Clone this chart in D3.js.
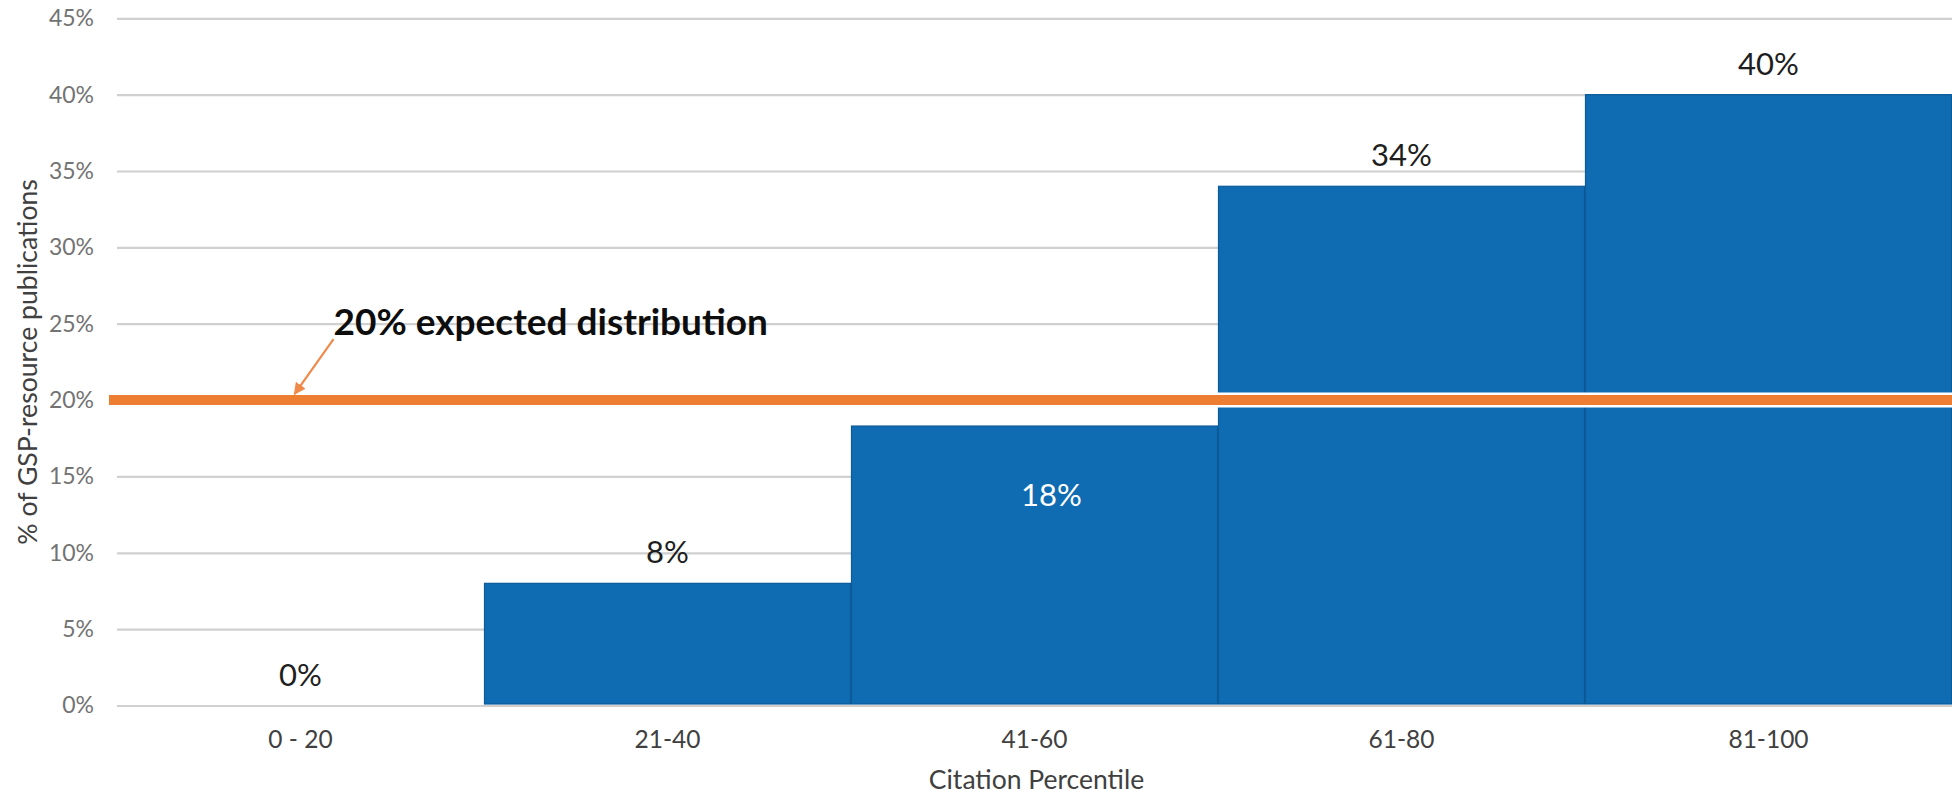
<!DOCTYPE html>
<html>
<head>
<meta charset="utf-8">
<script src="https://cdn.jsdelivr.net/npm/d3@7"></script>
<style>
  html, body { margin: 0; padding: 0; background: #fff; }
  svg { display: block; }
  text { font-family: Lato, "Open Sans", sans-serif; }
</style>
</head>
<body>
<svg id="chart" width="1952" height="796"></svg>
<script>
// ---- data ----
const categories = ["0 - 20", "21-40", "41-60", "61-80", "81-100"];
const shares = [0, 0.08, 0.183, 0.34, 0.40];
const yTicks = [0, 0.05, 0.10, 0.15, 0.20, 0.25, 0.30, 0.35, 0.40, 0.45];
const expectedShare = [0.20];
const annotationText = ["20% expected distribution"];
const xTitle = "Citation Percentile";
const yTitle = "% of GSP-resource publications";

(function () {
// ---- layout ----
const mLeft = 117, mRight = 1952, mTop = 18.3, mBottom = 705.5;
const svg = d3.select("#chart");

const x = d3.scaleBand().domain(categories).range([mLeft, mRight]).paddingInner(0).paddingOuter(0);
const y = d3.scaleLinear().domain([0, 0.45]).range([mBottom, mTop]);
const pct = d3.format(".0%");

// gridlines
const grid = svg.append("g")
  .attr("transform", `translate(${mLeft},0)`)
  .call(d3.axisLeft(y).tickValues(yTicks).tickSize(-(mRight - mLeft)).tickFormat(""));
grid.select(".domain").remove();
grid.selectAll(".tick line").attr("stroke", "#d0d0d0").attr("stroke-width", 2.2);

// y tick labels
const yAxis = svg.append("g")
  .attr("transform", `translate(${mLeft - 23},0)`)
  .call(d3.axisLeft(y).tickValues(yTicks).tickSize(0).tickPadding(0).tickFormat(pct));
yAxis.select(".domain").remove();
yAxis.selectAll(".tick text")
  .attr("font-family", "Lato, sans-serif")
  .attr("font-size", 23).attr("fill", "#737373");

// bars
svg.append("g").selectAll("rect")
  .data(categories.map((c, i) => ({ c, v: shares[i] })))
  .join("rect")
  .attr("x", d => x(d.c) + 0.5)
  .attr("width", x.bandwidth() - 1)
  .attr("y", d => y(d.v))
  .attr("height", d => Math.max(0, y(0) - 1.5 - y(d.v)))
  .attr("fill", d => d.v > 0 ? "#0f6bb2" : "none")
  .attr("stroke", d => d.v > 0 ? "#0b5b98" : "none")
  .attr("stroke-width", 1.2);

// x tick labels
const xAxis = svg.append("g")
  .attr("transform", `translate(0,${mBottom})`)
  .call(d3.axisBottom(x).tickSize(0).tickPadding(0));
xAxis.select(".domain").remove();
xAxis.selectAll(".tick text")
  .attr("font-family", "Lato, sans-serif")
  .attr("font-size", 24.5).attr("fill", "#404040")
  .attr("dy", null).attr("y", 42);

// expected distribution line
const refY = y(expectedShare[0]);
svg.append("line")
  .attr("x1", mLeft - 8).attr("x2", mRight)
  .attr("y1", refY).attr("y2", refY)
  .attr("stroke", "#ffffff").attr("stroke-width", 15);
svg.append("line")
  .attr("x1", mLeft - 8).attr("x2", mRight)
  .attr("y1", refY).attr("y2", refY)
  .attr("stroke", "#ed7d31").attr("stroke-width", 10);

// value labels
svg.append("g").selectAll("text")
  .data(categories.map((c, i) => ({ c, v: shares[i] })))
  .join("text")
  .each(function (d) {
    const inside = Math.abs(y(d.v) - refY) < 40 && d.v > 0;
    d3.select(this)
      .attr("x", x(d.c) + x.bandwidth() / 2 + (inside ? 17 : 0))
      .attr("y", inside ? y(d.v) + 80 : y(d.v) - 20)
      .attr("fill", inside ? "#ffffff" : "#1e1e1e");
  })
  .attr("text-anchor", "middle")
  .attr("font-size", 31)
  .text(d => pct(d.v));

// annotation
const ax = x(categories[0]) + x.bandwidth() / 2;
const defs = svg.append("defs");
defs.append("marker")
  .attr("id", "arrow").attr("viewBox", "0 0 10 10")
  .attr("refX", 9).attr("refY", 5)
  .attr("markerWidth", 5.5).attr("markerHeight", 5.5)
  .attr("markerUnits", "strokeWidth")
  .attr("orient", "auto")
  .append("path").attr("d", "M0,0 L10,5 L0,10 Z").attr("fill", "#f08a4b");
svg.append("line")
  .attr("x1", ax + 33).attr("y1", refY - 61)
  .attr("x2", ax - 6).attr("y2", refY - 6)
  .attr("stroke", "#f08a4b").attr("stroke-width", 2.2)
  .attr("marker-end", "url(#arrow)");
svg.append("text")
  .attr("x", ax + 33).attr("y", refY - 65)
  .attr("font-size", 37).attr("font-weight", 700).attr("fill", "#0d0d0d")
  .text(annotationText[0]);

// axis titles
svg.append("text")
  .attr("x", (mLeft + mRight) / 2 + 2).attr("y", 789)
  .attr("text-anchor", "middle").attr("font-size", 26.5).attr("fill", "#404040")
  .text(xTitle);
svg.append("text")
  .attr("transform", `translate(37,${(mTop + mBottom) / 2}) rotate(-90)`)
  .attr("text-anchor", "middle").attr("font-size", 26.6).attr("fill", "#404040")
  .text(yTitle);
})();
</script>
</body>
</html>
